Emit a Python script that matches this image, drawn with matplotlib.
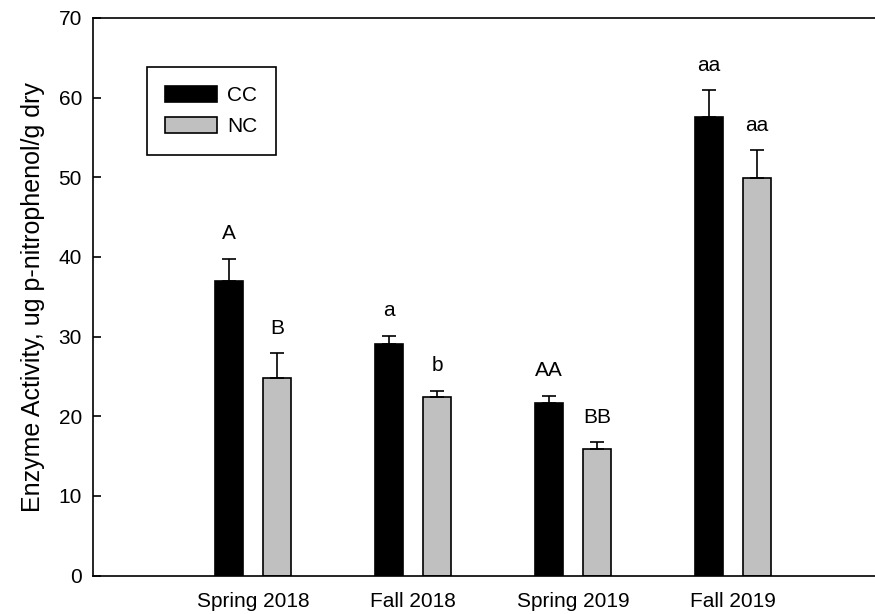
import matplotlib
matplotlib.use("Agg")
import matplotlib.pyplot as plt
import numpy as np

plt.rcParams['font.family'] = ['Liberation Sans', 'DejaVu Sans']

seasons = ['Spring 2018', 'Fall 2018', 'Spring 2019', 'Fall 2019']
cc_mean = [37.0, 29.1, 21.7, 57.6]
cc_se = [2.8, 1.0, 0.9, 3.3]
nc_mean = [24.8, 22.4, 15.9, 49.9]
nc_se = [3.1, 0.8, 0.85, 3.5]
cc_letters = ['A', 'a', 'AA', 'aa']
nc_letters = ['B', 'b', 'BB', 'aa']

fig = plt.figure(figsize=(8.75, 6.14), dpi=100)
ax = fig.add_axes([0.1063, 0.0627, 0.8937, 0.908])

x = np.arange(len(seasons))
w = 0.18
off = 0.15

ax.bar(x - off, cc_mean, w, color='black', edgecolor='black', linewidth=1.2, label='CC')
ax.bar(x + off, nc_mean, w, color='#c0c0c0', edgecolor='black', linewidth=1.2, label='NC')

# upper error bars only
ax.errorbar(x - off, cc_mean, yerr=[np.zeros(len(cc_se)), cc_se], fmt='none',
            ecolor='black', elinewidth=1.2, capsize=5, capthick=1.2)
ax.errorbar(x + off, nc_mean, yerr=[np.zeros(len(nc_se)), nc_se], fmt='none',
            ecolor='black', elinewidth=1.2, capsize=5, capthick=1.2)

for xi, m, e, t in zip(x - off, cc_mean, cc_se, cc_letters):
    ax.annotate(t, (xi, m + e), xytext=(0, 11), textcoords='offset points',
                ha='center', va='bottom', fontsize=15)
for xi, m, e, t in zip(x + off, nc_mean, nc_se, nc_letters):
    ax.annotate(t, (xi, m + e), xytext=(0, 11), textcoords='offset points',
                ha='center', va='bottom', fontsize=15)

ax.set_xlim(-1.0, 3.8875)
ax.set_ylim(0, 70)
ax.set_yticks(range(0, 71, 10))
ax.set_xticks(x)
ax.set_xticklabels(seasons, fontsize=15)
ax.tick_params(axis='y', direction='in', length=6, width=1.2, labelsize=15, pad=8)
ax.tick_params(axis='x', length=0, pad=12)
ax.spines['right'].set_visible(False)
for s in ['left', 'top', 'bottom']:
    ax.spines[s].set_linewidth(1.2)

ax.set_ylabel('Enzyme Activity, ug p-nitrophenol/g dry', fontsize=18, labelpad=10)

leg = ax.legend(loc='upper left', bbox_to_anchor=(0.0687, 0.912), borderaxespad=0,
                fontsize=15, handlelength=2.45, handleheight=0.82, handletextpad=0.5,
                fancybox=False, edgecolor='black', framealpha=1,
                borderpad=0.9, labelspacing=0.55)
leg.get_frame().set_linewidth(1.2)

fig.savefig('out.png', dpi=100)
